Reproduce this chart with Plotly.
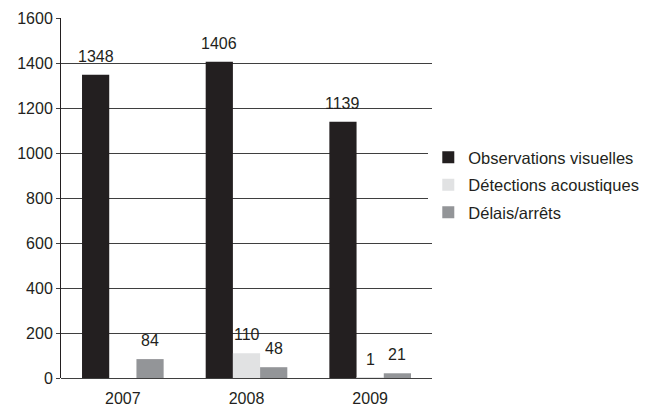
import plotly.graph_objects as go

years = ["2007", "2008", "2009"]
series_names = ["Observations visuelles", "Détections acoustiques", "Délais/arrêts"]
visuelles = [1348, 1406, 1139]
acoustiques = [None, 110, 1]
delais = [84, 48, 21]
colors = ["#231f20", "#e1e2e3", "#939598"]
y_ticks = [0, 200, 400, 600, 800, 1000, 1200, 1400, 1600]

FAM = "Liberation Sans, Arial, sans-serif"
font = dict(family=FAM, size=16, color="#231f20")

# page body has an 8px default margin, so the figure is drawn 8px smaller
W, H = 639, 398
ML, MR, MT, MB = 53, 215, 10, 28

fig = go.Figure()
all_series = [visuelles, acoustiques, delais]
for i, (name, vals, col) in enumerate(zip(series_names, all_series, colors)):
    fig.add_trace(go.Bar(
        x=years, y=vals, name=name, legendgroup=name,
        marker=dict(color=col, line=dict(width=0)),
    ))

# value labels above bars (category axis: annotation x is the category index)
plot_w = W - ML - MR
bargap = 0.34
bar_w = plot_w / len(years) * (1 - bargap) / 3
for i, vals in enumerate(all_series):
    for k, v in enumerate(vals):
        if v is None:
            continue
        fig.add_annotation(x=k, y=v, text=str(v), showarrow=False,
                           xref="x", yref="y", yanchor="bottom",
                           xshift=(i - 1) * bar_w, yshift=8, font=font)

fig.update_layout(
    width=W, height=H,
    margin=dict(l=ML, r=MR, t=MT, b=MB, autoexpand=False),
    paper_bgcolor="white", plot_bgcolor="white",
    barmode="group", bargap=bargap, bargroupgap=0,
    font=font,
    legend=dict(x=0.99, y=0.536, xanchor="left", yanchor="middle",
                font=dict(family=FAM, size=16.5, color="#231f20"),
                traceorder="grouped", tracegroupgap=3, itemwidth=30),
    xaxis=dict(type="category", showline=False, ticks="", showgrid=False, tickfont=font,
               automargin=False, ticklabelstandoff=9, range=[-0.5, len(years) - 0.5]),
    yaxis=dict(range=[0, 1600], tickvals=y_ticks, showgrid=True, gridcolor="#3f3f3f",
               gridwidth=1, showline=True, linecolor="#231f20", linewidth=1,
               ticks="outside", ticklen=4, tickcolor="#3f3f3f", tickfont=font,
               zeroline=True, zerolinecolor="#3f3f3f", zerolinewidth=1,
               automargin=False),
)
fig.write_html("out.html")
